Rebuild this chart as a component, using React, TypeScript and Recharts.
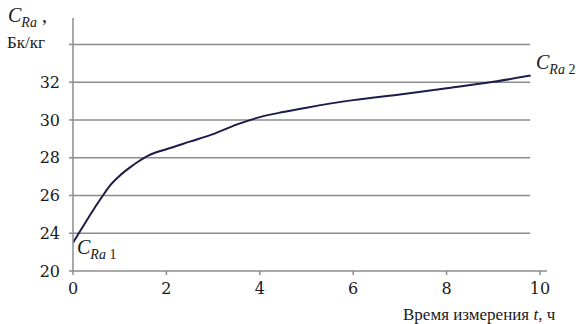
import React from "react";
import { LineChart, Line, XAxis, YAxis, ReferenceLine } from "recharts";

const times = [0, 0.2, 0.4, 0.6, 0.8, 1.0, 1.2, 1.4, 1.6, 1.8, 2.0, 2.5, 3.0, 3.5, 4.0, 4.5, 5, 6, 7, 8, 9, 9.8];
const values = [23.5, 24.3, 25.1, 25.85, 26.55, 27.05, 27.45, 27.8, 28.1, 28.3, 28.45, 28.85, 29.25, 29.75, 30.15, 30.42, 30.65, 31.05, 31.35, 31.68, 32.02, 32.35];
const xTicks = [0, 2, 4, 6, 8, 10];
const yTicks = [22, 24, 26, 28, 30, 32, 34];
const yTickLabels = ["20", "24", "26", "28", "30", "32", ""];
const gridValues = [24, 26, 28, 30, 32, 34];

const data = times.map((t, i) => ({ t, v: values[i] }));

const serif = "'DejaVu Serif', serif";
const tickStyle = { fill: "#1a1a1a", fontSize: 16, fontFamily: serif };

export default function App() {
  return (
    <div style={{ position: "absolute", left: 0, top: 0, width: 580, height: 324, background: "#fff", fontFamily: "'Liberation Serif', serif" }}>
      <LineChart width={580} height={324} data={data} margin={{ top: 18, right: 33, left: 0, bottom: 0 }}>
        <XAxis
          dataKey="t"
          type="number"
          domain={[0, 10.15]}
          ticks={xTicks}
          allowDataOverflow
          height={53}
          tickSize={4}
          tickMargin={8}
          tick={tickStyle}
          axisLine={{ stroke: "#8c8c8c", strokeWidth: 1.5 }}
          tickLine={{ stroke: "#8c8c8c", strokeWidth: 1.5 }}
        />
        <YAxis
          type="number"
          domain={[22, 35.4]}
          ticks={yTicks}
          allowDataOverflow
          width={73}
          tickSize={4}
          tickMargin={9}
          tick={tickStyle}
          tickFormatter={(v: number) => yTickLabels[yTicks.indexOf(v)] ?? ""}
          axisLine={{ stroke: "#8c8c8c", strokeWidth: 1.5 }}
          tickLine={{ stroke: "#8c8c8c", strokeWidth: 1.5 }}
        />
        {gridValues.map((g) => (
          <ReferenceLine
            key={g}
            segment={[{ x: 0, y: g }, { x: 9.79, y: g }]}
            stroke="#8c8c8c"
            strokeWidth={1.5}
          />
        ))}
        <Line
          type="monotone"
          dataKey="v"
          stroke="#1c1c4a"
          strokeWidth={2}
          dot={false}
          isAnimationActive={false}
        />
      </LineChart>
      <div style={{ position: "absolute", left: 8, top: 5, fontSize: 20, lineHeight: "20px", color: "#1a1a1a" }}>
        <i>C</i><sub style={{ fontSize: 14, fontStyle: "italic" }}>Ra</sub> ,
      </div>
      <div style={{ position: "absolute", left: 7, top: 33, fontSize: 17, lineHeight: "20px", color: "#1a1a1a" }}>
        Бк/кг
      </div>
      <div style={{ position: "absolute", left: 77, top: 237, fontSize: 20, lineHeight: "20px", color: "#1a1a1a" }}>
        <i>C</i><sub style={{ fontSize: 14 }}><i>Ra</i> 1</sub>
      </div>
      <div style={{ position: "absolute", left: 536, top: 52, fontSize: 20, lineHeight: "20px", color: "#1a1a1a" }}>
        <i>C</i><sub style={{ fontSize: 14 }}><i>Ra</i> 2</sub>
      </div>
      <div style={{ position: "absolute", left: 403, top: 305, fontSize: 17, lineHeight: "20px", color: "#1a1a1a", whiteSpace: "nowrap" }}>
        Время измерения <i>t</i>, ч
      </div>
    </div>
  );
}
